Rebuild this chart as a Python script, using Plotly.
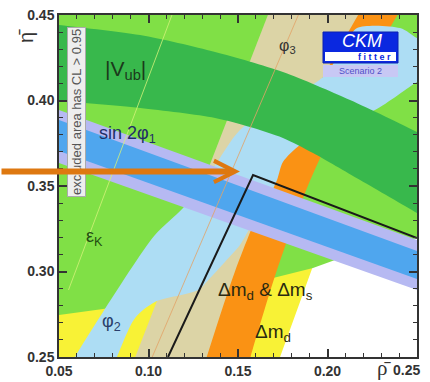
import plotly.graph_objects as go

# ---------------- constraint regions in the (rho-bar, eta-bar) plane ----------------
# Delta m_d (yellow)
dmd_rho = [0.03, 0.168, 0.1735, 0.1824, 0.1915, 0.2111, 0.03]
dmd_eta = [0.235, 0.235, 0.25, 0.2763, 0.302, 0.35, 0.35]

# epsilon_K (light green) : region above its lower contour
epsk_rho = [0.03, 0.05, 0.0746, 0.1176, 0.1696, 0.1919, 0.2042, 0.25, 0.28, 0.28, 0.03]
epsk_eta = [0.273, 0.2746, 0.2781, 0.2863, 0.2962, 0.3020, 0.3067, 0.3196, 0.33, 0.48, 0.48]

# phi_3 (beige) wedge
phi3_rho = [0.0889, 0.1741, 0.228, 0.130]
phi3_eta = [0.24, 0.47, 0.47, 0.24]

# Delta m_d & Delta m_s (orange) ring
dms_rho = [0.1295, 0.1483, 0.1676, 0.1904, 0.2171, 0.2230,
           0.2451, 0.2391, 0.2116, 0.1890, 0.1715, 0.1570, 0.1545]
dms_eta = [0.24, 0.30, 0.35, 0.40, 0.45, 0.46,
           0.46, 0.45, 0.40, 0.35, 0.30, 0.25, 0.24]

# phi_2 (light blue)
phi2_rho = [0.0561, 0.0589, 0.0746, 0.1036, 0.1193, 0.1355, 0.1511, 0.1763, 0.1975,
            0.2098, 0.2165, 0.2405, 0.25, 0.2545, 0.2545, 0.25, 0.2265, 0.2014, 0.1846,
            0.1751, 0.1718, 0.1651, 0.1567, 0.1511, 0.1427, 0.1344, 0.1277, 0.1036,
            0.0925, 0.0824, 0.0802]
phi2_eta = [0.2447, 0.25, 0.2763, 0.3213, 0.3371, 0.3594, 0.3827, 0.4003, 0.4137,
            0.4325, 0.4424, 0.4424, 0.4365, 0.4342, 0.4132, 0.4108, 0.3944, 0.3839, 0.3740,
            0.3640, 0.3535, 0.3389, 0.3254, 0.3155, 0.3056, 0.2962, 0.2892, 0.2822,
            0.2728, 0.25, 0.2447]

# |V_ub| (dark green) ring
vub_rho = [0.04, 0.05, 0.0953, 0.1372, 0.1751, 0.2126, 0.25, 0.26,
           0.26, 0.25, 0.2182, 0.1919, 0.1751, 0.1567, 0.1372, 0.0953, 0.05, 0.04]
vub_eta = [0.4455, 0.4442, 0.4383, 0.4284, 0.4167, 0.4003, 0.3816, 0.376,
           0.328, 0.3342, 0.3535, 0.3693, 0.3781, 0.3845, 0.3898, 0.3956, 0.3997, 0.4003]

# sin 2phi_1 : outer (lavender) and inner (blue) bands
s2b_out_rho = [0.04, 0.26, 0.26, 0.04]
s2b_out_eta = [0.3982, 0.3146, 0.2855, 0.3672]
s2b_in_rho = [0.04, 0.26, 0.26, 0.04]
s2b_in_eta = [0.3924, 0.3082, 0.2919, 0.3742]

# thin contours: phi_3 central value, epsilon_K central value, black outline
phi3c_rho = [0.0980, 0.1878]
phi3c_eta = [0.24, 0.46]
epskc_rho = [0.0553, 0.1131]
epskc_eta = [0.2892, 0.45]
box_rho = [0.1109, 0.1584, 0.25]
box_eta = [0.25, 0.3564, 0.3196]

# axis ticks
x_ticks = [0.05, 0.10, 0.15, 0.20, 0.25]
x_labels = ["0.05", "0.10", "0.15", "0.20", ""]
y_ticks = [0.25, 0.30, 0.35, 0.40, 0.45]
y_labels = ["0.25", "0.30", "0.35", "0.40", "0.45"]

W, H = 430, 382
ML, MR, MT, MB = 59, 13, 15, 25


def px(x):
    return (x - ML) / (W - ML - MR)


def py(y):
    return 1 - (y - MT) / (H - MT - MB)


fig = go.Figure()


def region(xs, ys, color, smooth=False):
    fig.add_trace(go.Scatter(
        x=xs, y=ys, mode="lines", fill="toself", fillcolor=color,
        line=dict(width=0, color=color, shape="spline" if smooth else "linear",
                  smoothing=0.8),
        hoverinfo="skip", showlegend=False))


def contour(xs, ys, color, width, opacity=1.0):
    fig.add_trace(go.Scatter(x=xs, y=ys, mode="lines",
                             line=dict(color=color, width=width), opacity=opacity,
                             hoverinfo="skip", showlegend=False))


region(dmd_rho, dmd_eta, "#F8F236")
region(epsk_rho, epsk_eta, "#80E046")
region(phi3_rho, phi3_eta, "#DCD4A6")
region(dms_rho, dms_eta, "#FA9214", smooth=True)
region(phi2_rho, phi2_eta, "#ADDDF4", smooth=True)
region(vub_rho, vub_eta, "#38B84C", smooth=True)
region(s2b_out_rho, s2b_out_eta, "#B6B9F2")
region(s2b_in_rho, s2b_in_eta, "#4FA6EE")

contour(phi3c_rho, phi3c_eta, "#E4A468", 1, 0.8)
contour(epskc_rho, epskc_eta, "#D4F27A", 1, 0.8)
contour(box_rho, box_eta, "#1a1a1a", 2)

FONT = "Liberation Sans, Arial, sans-serif"
ann = []


def note(text, x, y, size, color, ref="paper", **kw):
    d = dict(text=text, x=x, y=y, xref=ref, yref=ref, showarrow=False,
             xanchor="center", yanchor="middle",
             font=dict(size=size, color=color, family=kw.pop("family", FONT)))
    d.update(kw)
    ann.append(d)


labels = [
    ("|V<sub>ub</sub>|", 0.0874, 0.4178, 21, "#1b3a1b"),
    ("sin 2\u03c6<sub>1</sub>", 0.0880, 0.3800, 18, "#1f2f66"),
    ("\u03b5<sub>K</sub>", 0.0696, 0.3196, 18, "#234d12"),
    ("\u03c6<sub>2</sub>", 0.0796, 0.2699, 18, "#2a3f6b"),
    ("\u03c6<sub>3</sub>", 0.1779, 0.4313, 16, "#333333"),
    ("\u0394m<sub>d</sub> & \u0394m<sub>s</sub>", 0.1651, 0.2886, 19, "#2a2a10"),
    ("\u0394m<sub>d</sub>", 0.1696, 0.2640, 19, "#2a2a10"),
]
for t, xx, yy, s, c in labels:
    note(t, xx, yy, s, c, ref="data")
for a in ann:
    a["xref"], a["yref"] = "x", "y"

# vertical note
note("excluded area has CL > 0.95", px(76), py(112), 13, "#555555", textangle=-90,
     bgcolor="#EEEEEE", bordercolor="#AAAAAA", borderwidth=1, borderpad=1)

# logo
shapes = [
    dict(type="rect", xref="paper", yref="paper", x0=px(323), x1=px(398), y0=py(63), y1=py(32),
         fillcolor="#0A28E0", line=dict(color="#0A20B0", width=1), layer="above"),
    dict(type="rect", xref="paper", yref="paper", x0=px(325), x1=px(396), y0=py(61), y1=py(52),
         fillcolor="#FFFFFF", line=dict(width=0), layer="above"),
    dict(type="rect", xref="paper", yref="paper", x0=px(323), x1=px(398), y0=py(77), y1=py(65),
         fillcolor="#C8C8F4", line=dict(width=0), layer="above"),
]
note("<i>CKM</i>", px(362), py(41.5), 18, "white")
note("<b>f i t t e r</b>", px(374), py(57), 9, "#0A28E0")
note("Scenario 2", px(360), py(71), 9, "#5050C8")

# axis titles and last x label
note("\u03b7\u0304", px(26), py(36), 20, "#333333", textangle=-90)
note("\u03c1\u0304", px(384), py(368), 21, "#333333", family="Liberation Serif")
note("<b>0.25</b>", px(406), py(370), 14, "#333333")

# orange pointer
ann.append(dict(text="", x=0.1511, y=0.3585, xref="x", yref="y", ax=-240, ay=0,
                axref="pixel", ayref="pixel", showarrow=True, arrowhead=5,
                arrowwidth=6, arrowsize=0.7, arrowcolor="#DE7810"))

axis_common = dict(
    showline=True, linecolor="#333333", linewidth=1.5, mirror="allticks",
    ticks="inside", ticklen=8, tickwidth=1.5, tickcolor="#333333",
    minor=dict(dtick=0.01, ticks="inside", ticklen=4, tickwidth=1, tickcolor="#333333"),
    showgrid=False, zeroline=False, automargin=False,
    tickfont=dict(size=14, color="#333333", family="Liberation Sans, Arial", weight="bold"),
)

fig.update_layout(
    width=W, height=H, margin=dict(l=ML, r=MR, t=MT, b=MB, autoexpand=False),
    paper_bgcolor="white", plot_bgcolor="white",
    xaxis=dict(range=[0.05, 0.25], tickvals=x_ticks, ticktext=x_labels, **axis_common),
    yaxis=dict(range=[0.25, 0.45], tickvals=y_ticks, ticktext=y_labels, **axis_common),
    annotations=ann, shapes=shapes,
)

fig.write_html("out.html")
